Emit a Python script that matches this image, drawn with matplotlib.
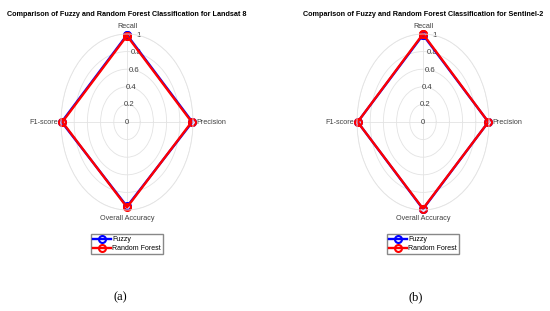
import numpy as np
import matplotlib
matplotlib.use("Agg")
from matplotlib import pyplot as plt

plt.rcParams['font.family'] = ['Liberation Sans', 'DejaVu Sans']

metrics = ['Recall', 'Precision', 'Overall Accuracy', 'F1-score']
angles_deg = [90, 0, 270, 180]

landsat_fuzzy = [0.99, 0.99, 0.96, 0.99]
landsat_rf = [0.98, 0.98, 0.97, 0.98]
sentinel_fuzzy = [0.99, 0.99, 0.99, 0.99]
sentinel_rf = [1.00, 0.99, 0.985, 0.99]

titles = ['Comparison of Fuzzy and Random Forest Classification for Landsat 8',
          'Comparison of Fuzzy and Random Forest Classification for Sentinel-2']
captions = ['(a)', '(b)']
series_names = ['Fuzzy', 'Random Forest']

W, H = 550, 311
fig = plt.figure(figsize=(5.5, 3.11), dpi=100)
fig.patch.set_facecolor('white')

gray = '#404040'
# where each axis label sits relative to the outer ring (pixels)
lab_pos = {90: ((0, 4), 'center', 'bottom'),
           0: ((3, 0), 'left', 'center'),
           270: ((0, -5), 'center', 'top'),
           180: ((-3, 0), 'right', 'center')}


def radar(cx, data, title, caption):
    rx, ry = 66, 88
    cy = 122
    ax = fig.add_axes([(cx - rx) / W, 1 - (cy + ry) / H, 2 * rx / W, 2 * ry / H],
                      projection='polar')
    ax.set_aspect('auto')
    th = np.deg2rad(angles_deg + [angles_deg[0]])
    for vals, col, name in zip(data, ['#0000ff', '#ff0000'], series_names):
        v = list(vals) + [vals[0]]
        ax.plot(th, v, color=col, lw=1.7, marker='o', ms=5, mfc='none',
                mew=1.5, label=name, clip_on=False)
    ax.set_ylim(0, 1)
    ax.set_yticks([0, 0.2, 0.4, 0.6, 0.8, 1])
    ax.set_yticklabels(['0', '0.2', '0.4', '0.6', '0.8', '1'])
    ax.set_rlabel_position(80)
    ax.tick_params(axis='y', labelsize=5.6, labelcolor=gray, pad=0)
    ax.set_thetagrids(angles_deg, [''] * 4)
    for a, name in zip(angles_deg, metrics):
        off, ha, va = lab_pos[a]
        ax.annotate(name, (np.deg2rad(a), 1), xytext=off,
                    textcoords='offset pixels', ha=ha, va=va,
                    fontsize=5.2, color=gray, annotation_clip=False)
    ax.grid(color='#e3e3e3', lw=0.6)
    ax.spines['polar'].set_color('#e3e3e3')
    ax.spines['polar'].set_linewidth(0.6)
    for lab in ax.get_yticklabels():
        lab.set_horizontalalignment('center')
        lab.set_verticalalignment('center')
    fig.text(cx / W, 1 - 14 / H, title, ha='center', va='center',
             fontsize=5.2, fontweight='bold', color='black')
    fig.legend(*ax.get_legend_handles_labels(), loc='center',
               bbox_to_anchor=(cx / W, 1 - 244 / H), fontsize=5,
               handlelength=2.6, handletextpad=0.2, borderpad=0.3,
               labelspacing=0.3, frameon=True, fancybox=False,
               edgecolor='#888888', framealpha=1)
    fig.text((cx - 7) / W, 1 - 297 / H, caption, ha='center', va='center',
             fontsize=9, family='Liberation Serif')


radar(127, [landsat_fuzzy, landsat_rf], titles[0], captions[0])
radar(423, [sentinel_fuzzy, sentinel_rf], titles[1], captions[1])

fig.savefig('out.png', dpi=100)
